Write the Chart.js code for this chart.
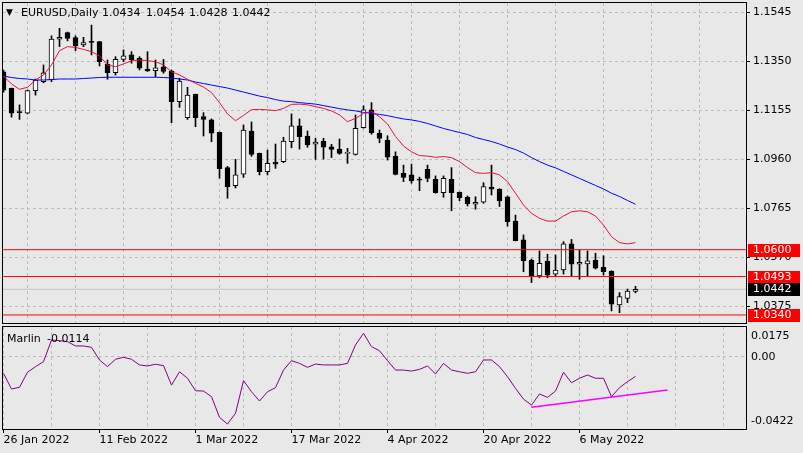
<!DOCTYPE html>
<html>
<head>
<meta charset="utf-8">
<script src="https://cdn.jsdelivr.net/npm/chart.js@4.4.0/dist/chart.umd.min.js"></script>
<style>
  body { margin:0; background:#e8e8e8; width:803px; height:453px; overflow:hidden; position:relative;
         font-family:"DejaVu Sans", sans-serif; font-size:11px; }
  canvas { position:absolute; left:0; }
  #precos { top:0; }
  #marlin { top:325px; }
  .txt { position:absolute; white-space:pre; line-height:13px; color:#000; }
</style>
</head>
<body>
<canvas id="precos" width="803" height="325"></canvas>
<canvas id="marlin" width="803" height="128"></canvas>
<div class="txt" style="left:6px;top:6px;font-size:9px">▼</div>
<div class="txt" style="left:21px;top:6px">EURUSD,Daily</div>
<div class="txt" style="left:102px;top:6px">1.0434</div>
<div class="txt" style="left:146px;top:6px">1.0454</div>
<div class="txt" style="left:189px;top:6px">1.0428</div>
<div class="txt" style="left:232px;top:6px">1.0442</div>
<div class="txt" style="left:7px;top:332px">Marlin</div>
<div class="txt" style="left:47px;top:332px">-0.0114</div>
<script>
// velas diarias EURUSD (26 Jan 2022 .. 17 May 2022)
const abertura = [1.1309,1.1243,1.1147,1.1144,1.1234,1.1269,1.1276,1.1439,1.1465,1.1445,
  1.1416,1.1427,1.1429,1.1339,1.1305,1.1358,1.1376,1.1362,1.1320,1.1313,
  1.1329,1.1312,1.1190,1.1126,1.1219,1.1130,1.1117,1.1068,1.0927,1.0855,
  1.0901,1.1073,1.0984,1.0911,1.0949,1.0951,1.1030,1.1093,1.1053,1.1020,
  1.1033,1.1010,1.1001,1.0984,1.0980,1.1086,1.1157,1.1064,1.1037,1.0973,
  1.0904,1.0898,1.0878,1.0920,1.0880,1.0827,1.0880,1.0829,1.0809,1.0781,
  1.0789,1.0849,1.0841,1.0811,1.0714,1.0639,1.0559,1.0496,1.0555,1.0502,
  1.0519,1.0623,1.0542,1.0543,1.0559,1.0530,1.0515,1.0380,1.0406,1.0434];
const maxima = [1.1316,1.1244,1.1177,1.1236,1.1280,1.1336,1.1452,1.1482,1.1467,1.1452,
  1.1446,1.1495,1.1430,1.1356,1.1369,1.1396,1.1389,1.1369,1.1389,1.1356,
  1.1358,1.1316,1.1283,1.1247,1.1220,1.1146,1.1121,1.1069,1.0932,1.0960,
  1.1097,1.1109,1.0985,1.0997,1.1021,1.1048,1.1141,1.1121,1.1073,1.1044,
  1.1044,1.1020,1.1041,1.1004,1.1137,1.1173,1.1186,1.1077,1.1054,1.0990,
  1.0937,1.0941,1.0889,1.0937,1.0894,1.0894,1.0927,1.0830,1.0814,1.0811,
  1.0867,1.0937,1.0843,1.0814,1.0738,1.0659,1.0563,1.0595,1.0582,1.0579,
  1.0632,1.0641,1.0599,1.0595,1.0586,1.0576,1.0516,1.0429,1.0443,1.0454];
const minimas = [1.1228,1.1128,1.1119,1.1141,1.1216,1.1265,1.1269,1.1409,1.1432,1.1393,
  1.1409,1.1376,1.1332,1.1279,1.1296,1.1349,1.1343,1.1316,1.1310,1.1289,
  1.1303,1.1106,1.1167,1.1119,1.1090,1.1053,1.1030,1.0885,1.0805,1.0846,
  1.0888,1.0972,1.0898,1.0898,1.0924,1.0947,1.1006,1.1001,1.1008,1.0960,
  1.0961,1.0967,1.0980,1.0944,1.0977,1.1084,1.1060,1.1026,1.0957,1.0898,
  1.0871,1.0865,1.0835,1.0871,1.0825,1.0809,1.0755,1.0795,1.0774,1.0761,
  1.0785,1.0818,1.0772,1.0694,1.0635,1.0512,1.0469,1.0488,1.0488,1.0492,
  1.0503,1.0495,1.0482,1.0496,1.0523,1.0499,1.0356,1.0349,1.0389,1.0428];
const fechamento = [1.1236,1.1144,1.1146,1.1234,1.1276,1.1305,1.1439,1.1446,1.1442,1.1412,
  1.1425,1.1426,1.1349,1.1305,1.1358,1.1372,1.1356,1.1323,1.1312,1.1325,
  1.1310,1.1190,1.1272,1.1216,1.1126,1.1119,1.1064,1.0923,1.0851,1.0898,
  1.1077,1.0980,1.0911,1.0944,1.0941,1.1033,1.1093,1.1050,1.1017,1.1029,
  1.1008,1.1000,1.0984,1.0985,1.1084,1.1157,1.1066,1.1043,1.0969,1.0900,
  1.0888,1.0875,1.0877,1.0884,1.0827,1.0884,1.0827,1.0807,1.0782,1.0789,
  1.0851,1.0841,1.0794,1.0712,1.0636,1.0556,1.0496,1.0546,1.0499,1.0519,
  1.0623,1.0542,1.0550,1.0556,1.0526,1.0512,1.0383,1.0413,1.0435,1.0442];

// medias moveis
const mediaVermelha = [1.1292,1.1260,1.1239,1.1247,1.1276,1.1296,1.1336,1.1393,1.1409,1.1406,
  1.1398,1.1389,1.1372,1.1336,1.1329,1.1340,1.1352,1.1356,1.1353,1.1349,
  1.1336,1.1309,1.1296,1.1279,1.1263,1.1248,1.1226,1.1186,1.1141,1.1114,
  1.1135,1.1158,1.1159,1.1157,1.1154,1.1163,1.1179,1.1180,1.1177,1.1170,
  1.1163,1.1153,1.1137,1.1110,1.1123,1.1143,1.1150,1.1130,1.1101,1.1051,
  1.1013,1.0990,1.0975,1.0973,1.0968,1.0971,1.0967,1.0951,1.0927,1.0907,
  1.0904,1.0907,1.0898,1.0871,1.0825,1.0778,1.0745,1.0725,1.0714,1.0714,
  1.0734,1.0751,1.0755,1.0751,1.0734,1.0698,1.0652,1.0628,1.0623,1.0628];
const mediaAzul = [1.1292,1.1286,1.1282,1.1280,1.1276,1.1276,1.1278,1.1280,1.1280,1.1280,
  1.1282,1.1284,1.1286,1.1287,1.1287,1.1287,1.1287,1.1287,1.1287,1.1287,
  1.1286,1.1284,1.1280,1.1276,1.1268,1.1262,1.1256,1.1250,1.1244,1.1236,
  1.1228,1.1220,1.1212,1.1206,1.1198,1.1192,1.1190,1.1186,1.1183,1.1180,
  1.1174,1.1168,1.1162,1.1157,1.1153,1.1147,1.1143,1.1139,1.1134,1.1127,
  1.1121,1.1117,1.1111,1.1103,1.1093,1.1083,1.1075,1.1067,1.1059,1.1047,
  1.1039,1.1031,1.1021,1.1009,1.0999,1.0985,1.0967,1.0951,1.0937,1.0926,
  1.0912,1.0898,1.0884,1.0870,1.0856,1.0842,1.0825,1.0812,1.0796,1.0781];

// indicador Marlin
const marlinValores = [-0.0096,-0.0188,-0.0178,-0.0090,-0.0057,-0.0028,0.0099,0.0095,0.0089,0.0064,
  0.0064,0.0056,-0.0018,-0.0057,-0.0014,-0.0002,-0.0014,-0.0047,-0.0053,-0.0043,
  -0.0051,-0.0165,-0.0087,-0.0125,-0.0198,-0.0200,-0.0233,-0.0354,-0.0393,-0.0330,
  -0.0139,-0.0204,-0.0258,-0.0204,-0.0180,-0.0077,-0.0022,-0.0038,-0.0061,-0.0042,
  -0.0047,-0.0047,-0.0047,-0.0038,0.0070,0.0138,0.0060,0.0036,-0.0022,-0.0077,
  -0.0077,-0.0083,-0.0073,-0.0053,-0.0100,-0.0038,-0.0077,-0.0087,-0.0096,-0.0087,
  -0.0018,-0.0018,-0.0057,-0.0116,-0.0184,-0.0247,-0.0282,-0.0217,-0.0237,-0.0200,
  -0.0090,-0.0151,-0.0125,-0.0106,-0.0125,-0.0125,-0.0233,-0.0180,-0.0145,-0.0114];
const linhaTendenciaX = [66, 83];
const linhaTendenciaY = [-0.0295, -0.0194];

// niveis horizontais e eixos
const niveisVermelhos = [1.0600, 1.0493, 1.0340];
const precoAtual = 1.0442;
const ticksPreco = [1.1545, 1.1350, 1.1155, 1.0960, 1.0765, 1.0570, 1.0375];
const ticksMarlin = [0.0175, 0.00, -0.0422];
const datasPos = [0, 12, 24, 36, 48, 60, 72];
const datasTexto = ["26 Jan 2022", "11 Feb 2022", "1 Mar 2022", "17 Mar 2022", "4 Apr 2022", "20 Apr 2022", "6 May 2022"];

const X_MIN = -0.0625, X_MAX = 92.8125;
const GRADE = "#bcbcbc";
Chart.defaults.font.family = "DejaVu Sans";
Chart.defaults.font.size = 11;
Chart.defaults.color = "#000";

const gradeX = [];
for (let v = 0; v <= 90; v += 6) gradeX.push(v);

function linhaHorizontal(valor, cor, ordem) {
  return {
    type: "line", order: ordem,
    data: [{ x: X_MIN, y: valor }, { x: X_MAX, y: valor }],
    borderColor: cor, borderWidth: 1, pointRadius: 0
  };
}

// sem folga extra do Chart.js em cima/embaixo do eixo
function larguraEixo(s) {
  s.width = 57;
  s.paddingTop = 0;
  s.paddingBottom = 0;
}

const moldura = {
  id: "moldura",
  afterDraw(chart) {
    const a = chart.chartArea, ctx = chart.ctx;
    ctx.save();
    ctx.strokeStyle = "#000";
    ctx.lineWidth = 1;
    ctx.strokeRect(a.left - 0.5, a.top - 0.5, a.right - a.left + 1, a.bottom - a.top + 1);
    ctx.restore();
  }
};

const caixasPreco = {
  id: "caixasPreco",
  afterDraw(chart) {
    const ctx = chart.ctx, y = chart.scales.y;
    ctx.save();
    ctx.font = "11px DejaVu Sans";
    ctx.textBaseline = "middle";
    const caixa = (v, cor) => {
      const py = Math.round(y.getPixelForValue(v));
      ctx.fillStyle = cor;
      ctx.fillRect(748, py - 6, 52, 13);
      ctx.fillStyle = "#fff";
      ctx.fillText(v.toFixed(4), 753, py + 0.5);
    };
    niveisVermelhos.forEach(v => caixa(v, "#ff0000"));
    caixa(precoAtual, "#000");
    ctx.restore();
  }
};

const rotulosMarlin = {
  id: "rotulosMarlin",
  afterDraw(chart) {
    const ctx = chart.ctx, a = chart.chartArea, y = chart.scales.y;
    ctx.save();
    ctx.font = "11px DejaVu Sans";
    ctx.textBaseline = "middle";
    ctx.fillStyle = "#000";
    ctx.fillText(ticksMarlin[0].toFixed(4), 751, a.top + 9);
    ctx.fillText(ticksMarlin[1].toFixed(2), 751, Math.round(y.getPixelForValue(ticksMarlin[1])) + 0.5);
    ctx.fillText(ticksMarlin[2].toFixed(4), 751, a.bottom - 8);
    ctx.restore();
  }
};

// grafico de precos
new Chart(document.getElementById("precos"), {
  type: "bar",
  data: {
    datasets: [
      ...niveisVermelhos.map(v => linhaHorizontal(v, "#ff0000", 0)),
      {
        type: "line", order: 1, data: mediaVermelha.map((v, i) => ({ x: i, y: v })),
        borderColor: "#e0143c", borderWidth: 1, pointRadius: 0, tension: 0
      },
      {
        type: "line", order: 1, data: mediaAzul.map((v, i) => ({ x: i, y: v })),
        borderColor: "#0000ff", borderWidth: 1, pointRadius: 0, tension: 0
      },
      {
        order: 2, grouped: false, barThickness: 5, minBarLength: 1,
        data: abertura.map((o, i) => ({ x: i, y: [o, fechamento[i]] })),
        backgroundColor: abertura.map((o, i) => fechamento[i] >= o ? "#fff" : "#000"),
        borderColor: "#000", borderWidth: 1, borderSkipped: false
      },
      {
        order: 3, grouped: false, barThickness: 1,
        data: minimas.map((l, i) => ({ x: i, y: [l, maxima[i]] })),
        backgroundColor: "#000", borderWidth: 0
      },
      linhaHorizontal(precoAtual, "#c4c4c4", 4)
    ]
  },
  options: {
    responsive: false, animation: false, devicePixelRatio: 1, events: [],
    layout: { padding: { left: 3, top: 3, right: 0, bottom: 2 } },
    plugins: { legend: { display: false }, tooltip: { enabled: false } },
    scales: {
      x: {
        type: "linear", min: X_MIN, max: X_MAX, offset: false,
        afterBuildTicks: s => { s.ticks = gradeX.map(v => ({ value: v })); },
        afterFit: s => { s.height = 0; s.paddingLeft = 0; s.paddingRight = 0; },
        ticks: { display: false },
        grid: { color: GRADE, drawTicks: false },
        border: { display: false, dash: [3, 3] }
      },
      y: {
        position: "right", min: 1.030795, max: 1.158285,
        afterBuildTicks: s => { s.ticks = ticksPreco.map(v => ({ value: v })); },
        afterFit: larguraEixo,
        ticks: { padding: 3, callback: v => v.toFixed(4) },
        grid: { color: GRADE, tickLength: 4, tickColor: "#000" },
        border: { display: false, dash: [3, 3] }
      }
    }
  },
  plugins: [moldura, caixasPreco]
});

// grafico do indicador
new Chart(document.getElementById("marlin"), {
  type: "line",
  data: {
    datasets: [
      {
        data: linhaTendenciaX.map((x, i) => ({ x: x, y: linhaTendenciaY[i] })),
        borderColor: "#ff00ff", borderWidth: 1.5, pointRadius: 0
      },
      {
        data: marlinValores.map((v, i) => ({ x: i, y: v })),
        borderColor: "#800080", borderWidth: 1, pointRadius: 0, tension: 0
      }
    ]
  },
  options: {
    responsive: false, animation: false, devicePixelRatio: 1, events: [],
    layout: { padding: { left: 3, top: 2, right: 0, bottom: 0 } },
    plugins: { legend: { display: false }, tooltip: { enabled: false } },
    scales: {
      x: {
        type: "linear", min: X_MIN, max: X_MAX, offset: false,
        afterBuildTicks: s => { s.ticks = gradeX.map(v => ({ value: v })); },
        afterFit: s => { s.height = 24; s.paddingLeft = 0; s.paddingRight = 0; },
        ticks: {
          autoSkip: false, maxRotation: 0, align: "start", padding: 1,
          callback: v => { const k = datasPos.indexOf(v); return k >= 0 ? datasTexto[k] : ""; }
        },
        grid: {
          color: GRADE, tickLength: 4,
          tickColor: c => datasPos.includes(c.tick && c.tick.value) ? "#000" : "rgba(0,0,0,0)"
        },
        border: { display: false, dash: [3, 3] }
      },
      y: {
        position: "right", min: -0.0422, max: 0.0175,
        afterBuildTicks: s => { s.ticks = [{ value: 0 }]; },
        afterFit: larguraEixo,
        ticks: { display: false },
        grid: { color: GRADE, drawTicks: false },
        border: { display: false, dash: [3, 3] }
      }
    }
  },
  plugins: [moldura, rotulosMarlin]
});
</script>
</body>
</html>
